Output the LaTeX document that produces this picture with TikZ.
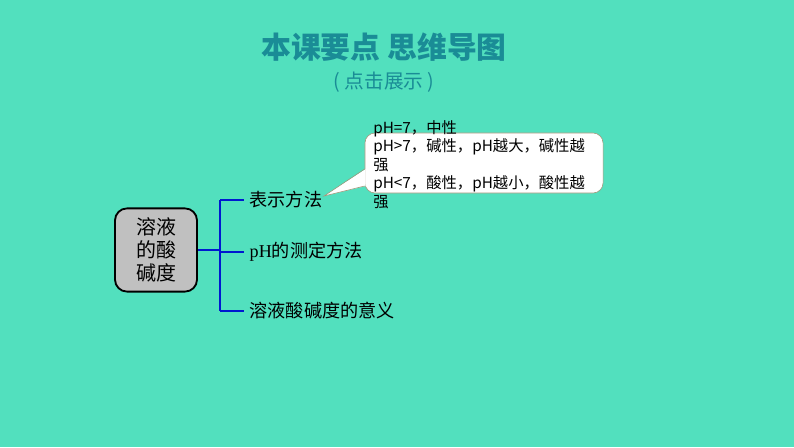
\documentclass[tikz,border=0pt]{standalone}
\usepackage{fontspec}
\setmainfont{Liberation Serif}
\newfontfamily\cjk{Noto Sans CJK SC}
\usetikzlibrary{calc, positioning}
\definecolor{bgteal}{RGB}{82,224,190}
\definecolor{titleteal}{RGB}{26,140,150}
\definecolor{linkblue}{RGB}{0,24,208}
\definecolor{boxgray}{RGB}{192,192,192}
\definecolor{tipedge}{RGB}{160,150,120}

\begin{document}
\begin{tikzpicture}[x=0.025cm, y=-0.025cm,
  branch/.style={anchor=west, inner sep=1pt, font=\cjk\fontsize{12.9}{15}\selectfont},
  link/.style={draw=linkblue, line width=1.6pt}]
  \useasboundingbox (0,0) rectangle (794,447);
  \fill[bgteal] (0,0) rectangle (794,447);
  % heading
  \node[font=\cjk\bfseries\fontsize{21.2}{25}\selectfont, text=titleteal] (title) at (384,47) {本课要点 思维导图};
  \node[font=\cjk\fontsize{14}{16}\selectfont, text=titleteal] (subtitle) at (384,82) {( 点击展示 )};

  % root and branches
  \node[draw, line width=1.3pt, fill=boxgray, rounded corners=0.3cm, minimum width=2.05cm,
    minimum height=2.08cm, align=center, font=\cjk\fontsize{14.2}{16.6}\selectfont] (root) at (156,250) {溶液\\的酸\\碱度};
  \node[branch] (b1) at (248,200) {表示方法};
  \node[branch] (b2) at (248,252) {{\rmfamily pH}的测定方法};
  \node[branch] (b3) at (248,311) {溶液酸碱度的意义};
  \coordinate (fork) at (220,250);
  \draw[link] (root.east) -- (fork);
  \draw[link] (fork |- b1.west) -- (fork |- b3.west);
  \foreach \b in {b1,b2,b3}
    \draw[link] (fork |- \b.west) -- ([xshift=-0.1cm]\b.west);

  % callout
  \node[draw=tipedge, fill=white, rounded corners=0.25cm, minimum width=5.95cm, minimum height=1.5cm] (tipbox) at (484,163) {};
  \coordinate (tip) at (324,196);
  \fill[white] ($(tipbox.west)+(1,6)$) -- (tip) -- ($(tipbox.west)+(1,23)$) -- cycle;
  \draw[tipedge] ($(tipbox.west)+(0,6)$) -- (tip) -- ($(tipbox.west)+(0,23)$);
  \node[anchor=north west, align=left, inner sep=0pt, font=\cjk\fontsize{10.9}{13.2}\selectfont] (tiptext) at (373,120)
    {pH=7，中性\\pH>7，碱性，pH越大，碱性越\\强\\pH<7，酸性，pH越小，酸性越\\强};
\end{tikzpicture}
\end{document}
